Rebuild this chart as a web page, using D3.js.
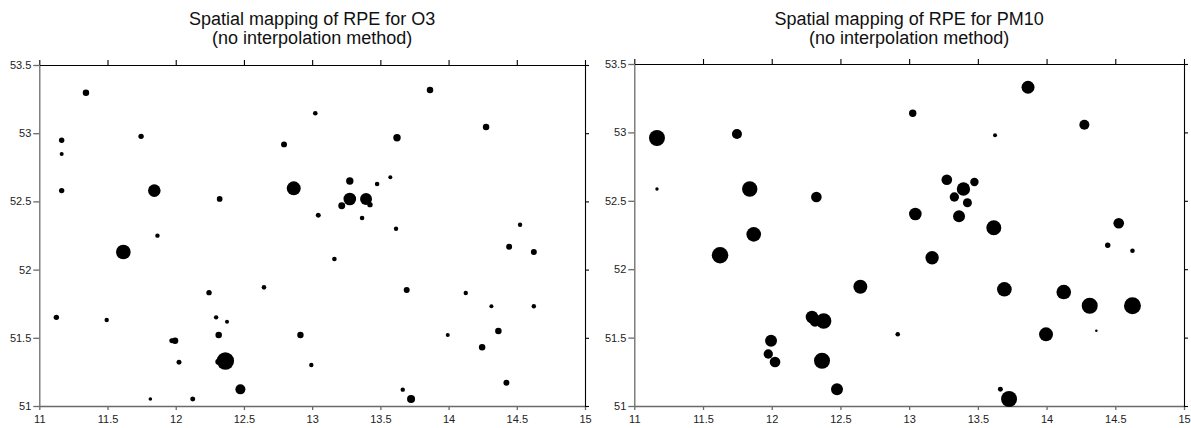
<!DOCTYPE html>
<html>
<head>
<meta charset="utf-8">
<script src="https://cdn.jsdelivr.net/npm/d3@7/dist/d3.min.js"></script>
<style>
  body { margin: 0; background: #fff; }
  svg { display: block; font-family: "Liberation Sans", Arial, sans-serif; }
</style>
</head>
<body>
<div id="chart"></div>
<script>
// ticks
var xTicks = [11, 11.5, 12, 12.5, 13, 13.5, 14, 14.5, 15];
var yTicks = [51, 51.5, 52, 52.5, 53, 53.5];

// O3 stations: longitude, latitude, RPE (%)
var o3Lon = [11.342, 11.164, 11.164, 11.164, 11.746, 11.843, 11.866, 12.322, 12.794, 12.865,
  13.864, 13.023, 14.275, 13.622, 13.276, 13.476, 13.573, 13.276, 13.395, 13.424,
  13.217, 13.045, 13.366, 13.615, 14.524, 11.616, 12.647, 12.244, 11.125, 11.494,
  12.296, 12.376, 12.315, 11.971, 11.995, 12.024, 12.312, 12.364, 12.474, 11.814,
  12.125, 12.914, 14.444, 14.625, 13.163, 13.693, 14.126, 14.314, 14.625, 13.994,
  14.365, 14.246, 12.994, 14.424, 13.664, 13.725];
var o3Lat = [53.297, 52.948, 52.847, 52.579, 52.977, 52.579, 52.249, 52.518, 52.918, 52.596,
  53.317, 53.146, 53.045, 52.967, 52.650, 52.628, 52.677, 52.518, 52.518, 52.476,
  52.468, 52.398, 52.378, 52.300, 52.329, 52.129, 51.870, 51.831, 51.650, 51.630,
  51.650, 51.618, 51.521, 51.479, 51.479, 51.320, 51.325, 51.330, 51.122, 51.051,
  51.051, 51.521, 52.168, 52.129, 52.078, 51.850, 51.828, 51.731, 51.731, 51.521,
  51.550, 51.430, 51.301, 51.171, 51.120, 51.051];
var o3Rpe = [13, 9, 5, 9, 9, 49, 6, 10, 11, 60,
  13, 6.5, 13, 17, 17, 6.5, 5, 49, 44, 9,
  15, 7.7, 6.5, 6, 6, 66, 6.5, 9, 9, 6,
  6, 5, 13, 7.7, 13, 7.7, 11, 93, 31, 4,
  7.7, 12.6, 11, 11, 6.5, 11, 6, 5, 6, 5,
  13, 13, 6, 11, 6, 20];

// PM10 stations
var pm10Lon = [11.165, 11.165, 11.747, 11.840, 11.869, 12.325, 13.865, 13.026, 14.275, 13.625,
  13.274, 13.395, 13.475, 13.329, 13.424, 13.045, 13.363, 13.616, 14.525, 11.624,
  12.645, 12.293, 12.315, 12.378, 11.995, 11.975, 12.024, 12.366, 12.475, 14.445,
  14.625, 13.167, 13.693, 14.125, 14.314, 14.625, 12.917, 13.996, 14.362, 13.664,
  13.727];
var pm10Lat = [52.959, 52.586, 52.988, 52.586, 52.255, 52.528, 53.330, 53.140, 53.056, 52.979,
  52.654, 52.586, 52.637, 52.528, 52.486, 52.404, 52.387, 52.303, 52.336, 52.102,
  51.872, 51.651, 51.620, 51.621, 51.477, 51.380, 51.322, 51.331, 51.122, 52.175,
  52.135, 52.084, 51.853, 51.833, 51.733, 51.733, 51.524, 51.524, 51.550, 51.122,
  51.051];
var pm10Rpe = [79, 3.6, 31, 73, 66, 35, 52, 17, 31, 5,
  35, 55, 22, 27, 25, 49, 44, 69, 35, 85,
  60, 49, 37, 73, 44, 27, 35, 79, 44, 9,
  6.5, 55, 66, 66, 79, 89, 6.5, 60, 2, 7.7,
  79];

var panels = [
  { title: ["Spatial mapping of RPE for O3", "(no interpolation method)"],
    lon: o3Lon, lat: o3Lat, rpe: o3Rpe, left: 39.3, right: 585, top: 65 },
  { title: ["Spatial mapping of RPE for PM10", "(no interpolation method)"],
    lon: pm10Lon, lat: pm10Lat, rpe: pm10Rpe, left: 634.3, right: 1184, top: 64 }
];

var width = 1191, height = 428, bottom = 406;

var svg = d3.select("#chart").append("svg")
  .attr("width", width)
  .attr("height", height);

var r = d3.scaleSqrt().domain([0, 100]).range([0, 9]);

panels.forEach(function (p) {
  var x = d3.scaleLinear().domain([11, 15]).range([p.left, p.right]);
  var y = d3.scaleLinear().domain([51, 53.5]).range([bottom, p.top]);
  var g = svg.append("g");

  // two-line title
  var cx = (p.left + p.right) / 2;
  p.title.forEach(function (line, i) {
    g.append("text")
      .attr("x", cx).attr("y", 24.5 + i * 19.5)
      .attr("text-anchor", "middle")
      .attr("font-size", "18px")
      .attr("fill", "#111")
      .text(line);
  });

  // axes, ticks outward on all four sides
  var axL = g.append("g").attr("transform", "translate(" + p.left + ",0)")
    .call(d3.axisLeft(y).tickValues(yTicks).tickSize(6).tickPadding(2).tickSizeOuter(0)
      .tickFormat(function (d) { return String(d); }));
  var axB = g.append("g").attr("transform", "translate(0," + bottom + ")")
    .call(d3.axisBottom(x).tickValues(xTicks).tickSize(4).tickPadding(5).tickSizeOuter(0)
      .tickFormat(function (d) { return String(d); }));
  var axT = g.append("g").attr("transform", "translate(0," + p.top + ")")
    .call(d3.axisTop(x).tickValues(xTicks).tickSize(5).tickSizeOuter(0).tickFormat(""));
  var axR = g.append("g").attr("transform", "translate(" + p.right + ",0)")
    .call(d3.axisRight(y).tickValues(yTicks).tickSize(4).tickSizeOuter(0).tickFormat(""));

  [axL, axB].forEach(function (a) {
    a.selectAll("path, line").attr("stroke", "#6a6a6a").attr("stroke-width", 1.3);
    a.selectAll("text").attr("fill", "#222").attr("font-size", "11px")
      .attr("font-family", "Liberation Sans, Arial, sans-serif");
  });
  [axT, axR].forEach(function (a) {
    a.selectAll("path, line").attr("stroke", "#000").attr("stroke-width", 1.1);
  });

  // stations
  var pts = p.lon.map(function (d, i) {
    return { lon: d, lat: p.lat[i], rpe: p.rpe[i] };
  });
  g.selectAll("circle")
    .data(pts)
    .enter().append("circle")
    .attr("cx", function (d) { return x(d.lon); })
    .attr("cy", function (d) { return y(d.lat); })
    .attr("r", function (d) { return r(d.rpe); })
    .attr("fill", "#000");
});
</script>
</body>
</html>
